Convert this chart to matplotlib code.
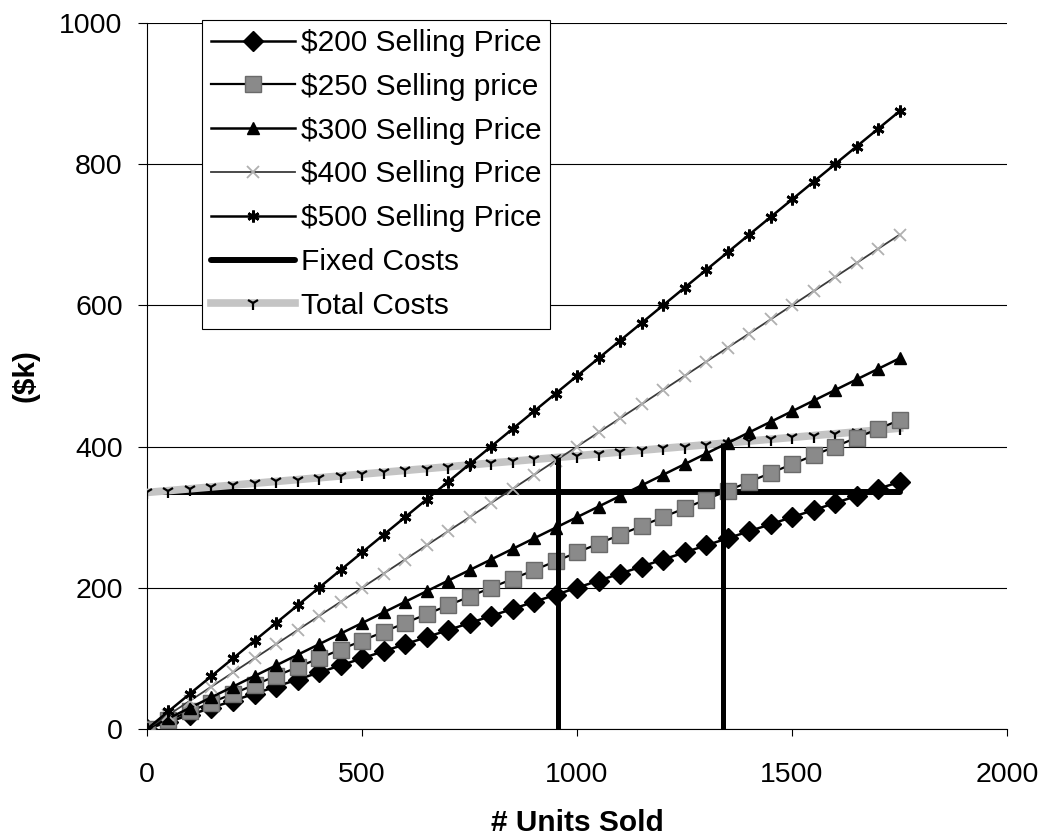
import matplotlib
matplotlib.use("Agg")
import matplotlib.pyplot as plt

plt.rcParams['font.family'] = ['Liberation Sans', 'DejaVu Sans']

units = [0, 50, 100, 150, 200, 250, 300, 350, 400, 450, 500, 550, 600, 650, 700, 750,
         800, 850, 900, 950, 1000, 1050, 1100, 1150, 1200, 1250, 1300, 1350, 1400, 1450,
         1500, 1550, 1600, 1650, 1700, 1750]
rev_200 = [0, 10, 20, 30, 40, 50, 60, 70, 80, 90, 100, 110, 120, 130, 140, 150, 160, 170,
           180, 190, 200, 210, 220, 230, 240, 250, 260, 270, 280, 290, 300, 310, 320, 330,
           340, 350]
rev_250 = [0, 12.5, 25, 37.5, 50, 62.5, 75, 87.5, 100, 112.5, 125, 137.5, 150, 162.5, 175,
           187.5, 200, 212.5, 225, 237.5, 250, 262.5, 275, 287.5, 300, 312.5, 325, 337.5,
           350, 362.5, 375, 387.5, 400, 412.5, 425, 437.5]
rev_300 = [0, 15, 30, 45, 60, 75, 90, 105, 120, 135, 150, 165, 180, 195, 210, 225, 240, 255,
           270, 285, 300, 315, 330, 345, 360, 375, 390, 405, 420, 435, 450, 465, 480, 495,
           510, 525]
rev_400 = [0, 20, 40, 60, 80, 100, 120, 140, 160, 180, 200, 220, 240, 260, 280, 300, 320,
           340, 360, 380, 400, 420, 440, 460, 480, 500, 520, 540, 560, 580, 600, 620, 640,
           660, 680, 700]
rev_500 = [0, 25, 50, 75, 100, 125, 150, 175, 200, 225, 250, 275, 300, 325, 350, 375, 400,
           425, 450, 475, 500, 525, 550, 575, 600, 625, 650, 675, 700, 725, 750, 775, 800,
           825, 850, 875]
fixed_costs = [335, 335, 335, 335, 335, 335, 335, 335, 335, 335, 335, 335, 335, 335, 335,
               335, 335, 335, 335, 335, 335, 335, 335, 335, 335, 335, 335, 335, 335, 335,
               335, 335, 335, 335, 335, 335]
total_costs = [335, 337.6, 340.2, 342.8, 345.4, 348, 350.6, 353.2, 355.8, 358.4, 361, 363.6,
               366.2, 368.8, 371.4, 374, 376.6, 379.2, 381.8, 384.4, 387, 389.6, 392.2,
               394.8, 397.4, 400, 402.6, 405.2, 407.8, 410.4, 413, 415.6, 418.2, 420.8,
               423.4, 426]
# break-even markers (units, $k)
breakeven_units = [955, 1340]
breakeven_tops = [385, 405]

fig = plt.figure(figsize=(10.44, 8.38), dpi=100)
ax = fig.add_axes([0.1408, 0.1301, 0.8238, 0.8425])

h200, = ax.plot(units, rev_200, color='black', lw=1.8, marker='D', ms=10.5,
                mfc='black', mec='black', zorder=5, label='$200 Selling Price')
h250, = ax.plot(units, rev_250, color='black', lw=1.6, marker='s', ms=11,
                mfc='#8a8a8a', mec='#6a6a6a', mew=1, zorder=5, label='$250 Selling price')
h300, = ax.plot(units, rev_300, color='black', lw=1.8, marker='^', ms=9,
                mfc='black', mec='black', zorder=5, label='$300 Selling Price')
h400, = ax.plot(units, rev_400, color='#3a3a3a', lw=1.3, marker='x', ms=8.5,
                mec='#b0b0b0', mew=1.3, zorder=5, label='$400 Selling Price')
h500, = ax.plot(units, rev_500, color='black', lw=1.8, marker=(6, 2, 0), ms=8.5,
                mec='black', mew=2, zorder=5, label='$500 Selling Price')
hfix, = ax.plot(units, fixed_costs, color='black', lw=4.3, solid_capstyle='round',
                zorder=3, label='Fixed Costs')
htot, = ax.plot(units, total_costs, color='#c4c4c4', lw=5.5, marker='1', ms=9.5,
                mec='black', mew=1.6, zorder=4, label='Total Costs')

for xv, top in zip(breakeven_units, breakeven_tops):
    ax.plot([xv, xv], [0, top], color='black', lw=3.6, zorder=6, solid_capstyle='butt')

ax.set_xlim(0, 2000)
ax.set_ylim(0, 1000)
ax.set_xticks([0, 500, 1000, 1500, 2000])
ax.set_yticks([0, 200, 400, 600, 800, 1000])
ax.yaxis.grid(True, color='black', lw=0.8)
ax.set_axisbelow(True)
for s in ['top', 'right']:
    ax.spines[s].set_visible(False)
for s in ['left', 'bottom']:
    ax.spines[s].set_linewidth(0.8)
ax.tick_params(axis='y', direction='out', length=6.5, width=0.8, pad=11, labelsize=20.5)
ax.tick_params(axis='x', direction='out', length=5, width=0.8, pad=19, labelsize=20.5)

ax.set_xlabel('# Units Sold', fontsize=21.5, fontweight='bold', labelpad=15)
ax.set_ylabel('($k)', fontsize=21.5, fontweight='bold', labelpad=14)

leg = ax.legend(handles=[h200, h250, h300, h400, h500, hfix, htot],
                loc='upper left', bbox_to_anchor=(202 / 1044, 1 - 20 / 838),
                bbox_transform=fig.transFigure, fontsize=21.5, frameon=True,
                fancybox=False, edgecolor='black', framealpha=1, handlelength=2.8,
                handletextpad=0.2, labelspacing=0.53, borderpad=0.3, borderaxespad=0,
                numpoints=1)
leg.get_frame().set_linewidth(0.8)
leg.set_zorder(10)

fig.savefig('out.png', dpi=100)
